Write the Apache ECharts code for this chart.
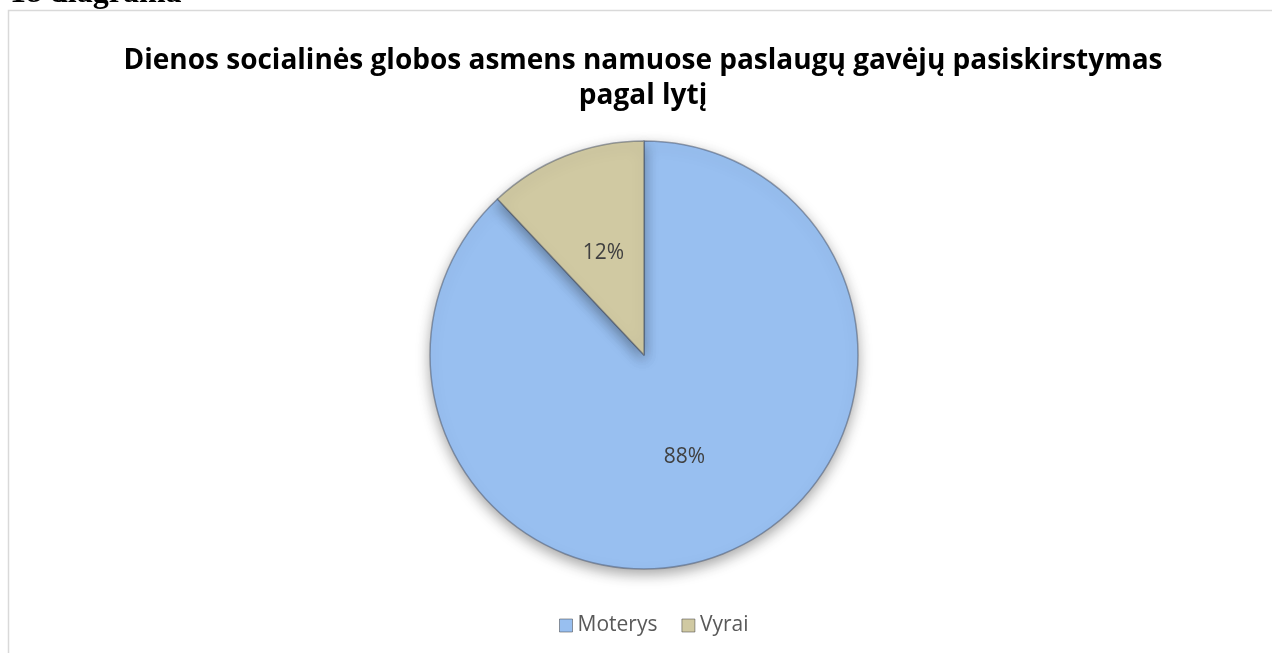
<!DOCTYPE html>
<html>
<head>
<meta charset="utf-8">
<script src="https://cdn.jsdelivr.net/npm/echarts@6/dist/echarts.min.js"></script>
<style>
  html, body { margin: 0; padding: 0; background: #fff; }
  #chart { width: 1272px; height: 653px; }
</style>
</head>
<body>
<div id="chart"></div>
<script>
// duomenys
var categories = ['Moterys', 'Vyrai']
var values = [88, 12]
var sliceColors = ['#98bff0', '#d0c9a2']

var chart = echarts.init(document.getElementById('chart'))

var seriesData = categories.map(function(name, i) {
  return {
    name: name,
    value: values[i],
    itemStyle: { color: sliceColors[i] }
  }
})

chart.setOption({
  backgroundColor: '#fff',
  animation: false,
  title: {
    text: 'Dienos socialinės globos asmens namuose paslaugų gavėjų pasiskirstymas\npagal lytį',
    left: 638,
    textAlign: 'center',
    top: 39,
    textStyle: {
      fontFamily: 'Open Sans',
      fontWeight: 'bold',
      fontSize: 28,
      lineHeight: 35,
      color: '#000'
    }
  },
  legend: {
    data: categories,
    top: 610,
    left: 554,
    icon: 'rect',
    itemWidth: 13,
    itemHeight: 13,
    itemGap: 24,
    textStyle: { fontFamily: 'Open Sans', fontSize: 21, color: '#595959' },
    itemStyle: { color: 'inherit', borderColor: 'rgba(60,60,60,0.5)', borderWidth: 1 }
  },
  graphic: [
    {
      type: 'text',
      left: 10,
      top: -22,
      style: {
        text: '18 diagrama',
        font: 'bold 32px "Liberation Serif"',
        fill: '#000'
      }
    },
    {
      type: 'rect',
      shape: { x: 8.5, y: 10.5, width: 1400, height: 800 },
      style: { fill: 'none', stroke: '#d9d9d9', lineWidth: 1.5 },
      silent: true
    }
  ],
  series: [{
    type: 'pie',
    center: [644, 355],
    radius: [0, 214],
    startAngle: 90,
    clockwise: true,
    data: seriesData,
    itemStyle: {
      borderColor: 'rgba(70,80,100,0.5)',
      borderWidth: 1.5,
      shadowColor: 'rgba(0,0,0,0.35)',
      shadowBlur: 14,
      shadowOffsetY: 5
    },
    label: {
      position: 'inner',
      formatter: '{d}%',
      fontFamily: 'Open Sans',
      fontSize: 21,
      color: '#404040'
    },
    labelLine: { show: false },
    emphasis: { disabled: true }
  }]
})
</script>
</body>
</html>
